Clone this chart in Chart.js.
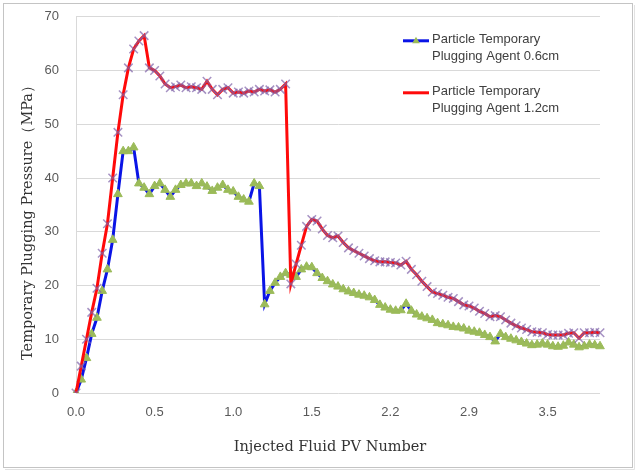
<!DOCTYPE html>
<html>
<head>
<meta charset="utf-8">
<script src="https://cdn.jsdelivr.net/npm/chart.js@4/dist/chart.umd.min.js"></script>
<style>
  html, body { margin: 0; padding: 0; background: #ffffff; }
  #wrap { position: relative; width: 637px; height: 472px; }
  canvas { display: block; }
</style>
</head>
<body>
<div id="wrap"><canvas id="c" width="637" height="472"></canvas></div>
<script>
// ---- data ----
const tickLabels = ['0.0', '0.5', '1.0', '1.5', '2.2', '2.9', '3.5'];
const pointsPerTick = 15;

const seriesNames = [
  'Particle Temporary Plugging Agent 0.6cm',
  'Particle Temporary Plugging Agent 1.2cm'
];

const agent06 = [
  0, 2.5, 6.5, 11, 14, 19, 23, 28.5, 37, 45,
  45, 45.7, 39, 38.2, 37, 38.5, 39, 37.8, 36.5, 37.8,
  38.7, 39, 39, 38.5, 39, 38.4, 37.6, 38.2, 38.7, 37.8,
  37.5, 36.5, 36, 35.6, 39, 38.5, 16.5, 19, 20.5, 21.6,
  22.3, 22, 21.6, 23, 23.5, 23.4, 22.3, 21.4, 20.8, 20.2,
  19.8, 19.3, 18.9, 18.6, 18.3, 18.1, 17.8, 17.3, 16.4, 15.9,
  15.5, 15.3, 15.4, 16.6, 15.3, 14.6, 14.2, 13.9, 13.6, 13,
  12.8, 12.6, 12.3, 12.2, 12, 11.6, 11.4, 11.2, 10.8, 10.4,
  9.6, 11, 10.4, 10.1, 9.8, 9.5, 9.2, 8.9, 9, 9.2,
  9, 8.7, 8.6, 8.8, 9.4, 9, 8.5, 8.7, 9, 8.9,
  8.7
];

const agent12 = [
  0, 5, 10, 15, 19.5, 26, 31.5, 40, 48.5, 55.5,
  60.5, 64, 65.5, 66.5, 60.5, 60, 59, 57.5, 56.8, 57,
  57.3, 56.8, 57, 56.8, 56.5, 58, 56.5, 55.5, 56.5, 56.8,
  55.8, 56, 55.8, 56.2, 56, 56.5, 56.2, 56.4, 56, 56.5,
  57.5, 20.3, 24, 27.5, 31, 32.3, 32, 30.5, 29.3, 28.9,
  29.2, 28, 27, 26.5, 26, 25.5, 25, 24.6, 24.4, 24.4,
  24.3, 24.2, 23.8, 24.5, 23, 22, 20.8, 19.8, 18.8, 18.5,
  18.2, 17.8, 17.6, 17, 16.4, 16.2, 15.8, 15.2, 14.8, 14.2,
  14.4, 14.2, 13.6, 13, 12.5, 12.1, 11.8, 11.4, 11.3, 11.2,
  10.9, 10.8, 10.8, 10.8, 11.1, 11.2, 10.2, 11.2, 11.2, 11.3,
  11.2
];

const xTitle = 'Injected Fluid PV Number';
const yTitle = 'Temporary Plugging Pressure（MPa）';

// category labels: a tick label every `pointsPerTick` points
const categories = agent06.map((_, i) =>
  i % pointsPerTick === 0 && tickLabels[i / pointsPerTick] !== undefined ? tickLabels[i / pointsPerTick] : '');

const COL_BLUE = '#0a14e6';
const COL_GREEN = '#9bbb59';
const COL_RED = '#ff0a0a';
const COL_PURPLE = 'rgba(128,100,170,0.7)';

function drawTri(ctx, x, y, r, color) {
  ctx.save();
  ctx.fillStyle = color;
  ctx.beginPath();
  ctx.moveTo(x, y - r);
  ctx.lineTo(x + r * 0.95, y + r * 0.6);
  ctx.lineTo(x - r * 0.95, y + r * 0.6);
  ctx.closePath();
  ctx.fill();
  ctx.restore();
}

const decor = {
  id: 'decor',
  beforeDraw(chart) {
    const ctx = chart.ctx;
    ctx.save();
    ctx.fillStyle = '#ffffff';
    ctx.fillRect(0, 0, chart.width, chart.height);
    ctx.strokeStyle = '#c4c4c4';
    ctx.lineWidth = 1;
    ctx.strokeRect(3.5, 3.5, 629, 464);
    ctx.strokeStyle = '#e2e2e2';
    ctx.beginPath();
    ctx.moveTo(634.5, 5); ctx.lineTo(634.5, 469.5); ctx.lineTo(5, 469.5);
    ctx.stroke();
    ctx.restore();
  },
  afterDraw(chart) {
    const ctx = chart.ctx;
    const a = chart.chartArea;
    ctx.save();
    // axis titles
    ctx.fillStyle = '#333333';
    ctx.font = '14.5px "DejaVu Serif"';
    ctx.textAlign = 'center';
    ctx.textBaseline = 'middle';
    ctx.fillText(xTitle, 330, 447);
    ctx.translate(28.5, 219);
    ctx.rotate(-Math.PI / 2);
    ctx.fillText(yTitle, 0, 0);
    ctx.restore();

    // legend
    ctx.save();
    const lx = a.left + 327;
    chart.data.datasets.forEach((ds, k) => {
      const y = a.top + 24 + k * 52;
      ctx.strokeStyle = ds.borderColor;
      ctx.lineWidth = 3;
      ctx.beginPath();
      ctx.moveTo(lx, y);
      ctx.lineTo(lx + 26, y);
      ctx.stroke();
      if (ds.pointStyle === 'triangle') {
        drawTri(ctx, lx + 13, y, 4, ds.pointBackgroundColor);
      }
      const name = ds.label;
      const cut = name.indexOf(' Plugging');
      const lines = [name.slice(0, cut), name.slice(cut + 1)];
      ctx.fillStyle = '#404040';
      ctx.font = '13px "Liberation Sans", Arial, sans-serif';
      ctx.textAlign = 'left';
      ctx.textBaseline = 'middle';
      ctx.fillText(lines[0], lx + 29, y - 1);
      ctx.fillText(lines[1], lx + 29, y + 16);
    });
    ctx.restore();
  }
};

new Chart(document.getElementById('c'), {
  type: 'line',
  data: {
    labels: categories,
    datasets: [
      {
        label: seriesNames[0],
        data: agent06,
        borderColor: COL_BLUE,
        borderWidth: 3,
        pointStyle: 'triangle',
        pointRadius: 5,
        pointBackgroundColor: COL_GREEN,
        pointBorderColor: COL_GREEN,
        pointBorderWidth: 1,
        tension: 0,
        fill: false,
        order: 1
      },
      {
        label: seriesNames[1],
        data: agent12,
        borderColor: COL_RED,
        borderWidth: 3,
        pointStyle: 'crossRot',
        pointRadius: 6,
        pointBorderColor: COL_PURPLE,
        pointBackgroundColor: COL_PURPLE,
        pointBorderWidth: 1.5,
        tension: 0,
        fill: false,
        order: 0
      }
    ]
  },
  options: {
    responsive: false,
    animation: false,
    devicePixelRatio: 1,
    layout: { padding: { top: 8, right: 37, left: 0, bottom: 0 } },
    plugins: { legend: { display: false }, tooltip: { enabled: false } },
    scales: {
      x: {
        type: 'category',
        offset: false,
        grid: { display: false, drawTicks: false },
        border: { display: false },
        ticks: {
          autoSkip: false,
          maxRotation: 0,
          minRotation: 0,
          padding: 12,
          color: '#595959',
          font: { family: '"Liberation Sans", Arial, sans-serif', size: 13 },
          callback: function (value, index) { return categories[index]; }
        },
        afterFit: s => { s.height = 79; }
      },
      y: {
        min: 0,
        max: 70,
        grid: { color: '#d9d9d9', lineWidth: 1, drawTicks: true, tickLength: 8, tickColor: 'rgba(0,0,0,0)' },
        border: { display: true, color: '#d9d9d9' },
        ticks: {
          stepSize: 10,
          padding: 9,
          color: '#595959',
          font: { family: '"Liberation Sans", Arial, sans-serif', size: 13 }
        },
        afterFit: s => { s.width = 76; }
      }
    }
  },
  plugins: [decor]
});
</script>
</body>
</html>
